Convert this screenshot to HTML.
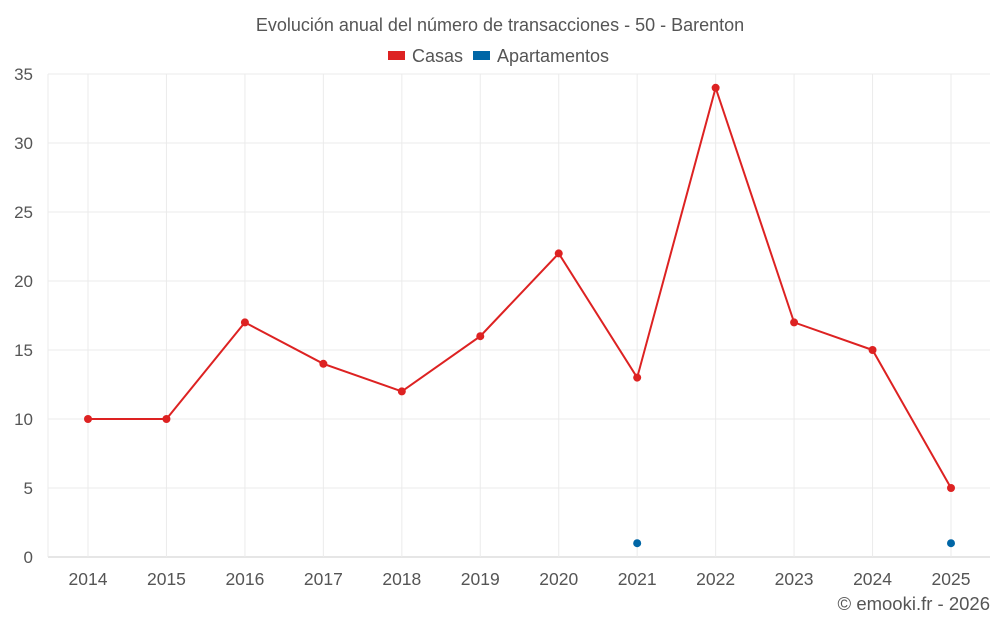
<!DOCTYPE html>
<html><head><meta charset="utf-8"><style>
body{margin:0;background:#fff;font-family:"Liberation Sans",sans-serif;}
svg text{font-family:"Liberation Sans",sans-serif;fill:#555;}
</style></head><body>
<svg id="chart" width="1000" height="625">
<text x="500" y="31" text-anchor="middle" font-size="18">Evolución anual del número de transacciones - 50 - Barenton</text>
<g>
<rect x="388" y="51" width="17" height="9" fill="#dd2222"/>
<text x="412" y="62" font-size="18">Casas</text>
<rect x="473" y="51" width="17" height="9" fill="#0066a6"/>
<text x="497" y="62" font-size="18">Apartamentos</text>
</g>
<g id="grid"></g>
<g id="axes"></g>
<g id="marks"></g>
<text x="990" y="610" text-anchor="end" font-size="18.5">© emooki.fr - 2026</text>
</svg>
<script>
const years = ["2014","2015","2016","2017","2018","2019","2020","2021","2022","2023","2024","2025"];
const casas = [10,10,17,14,12,16,22,13,34,17,15,5];
const apartamentos = [null,null,null,null,null,null,null,1,null,null,null,1];
const yTicks = [0,5,10,15,20,25,30,35];
const NS="http://www.w3.org/2000/svg";
const L=48,R=990,T=74,B=557,x0=88,x1=951;
function xs(i){return x0+(x1-x0)*i/(years.length-1);}
function ys(v){return B-(B-T)*v/35;}
function mk(tag,attrs,parent){const e=document.createElementNS(NS,tag);for(const k in attrs)e.setAttribute(k,attrs[k]);document.getElementById(parent).appendChild(e);return e;}
yTicks.forEach(v=>{
 const g=mk('line',{x1:L,x2:R,y1:ys(v),y2:ys(v),stroke:v===0?'#ccc':'#ebebeb','stroke-width':1},'grid');
 
 
 const t=mk('text',{x:33,y:ys(v)+6,'text-anchor':'end','font-size':17},'axes');
 t.textContent=v;
 
 
});
const lft=mk('line',{x1:L,x2:L,y1:T,y2:B,stroke:'#ebebeb'},'grid');


years.forEach((y,i)=>{
 const g=mk('line',{x1:xs(i),x2:xs(i),y1:T,y2:B,stroke:'#ebebeb'},'grid');
 
 
 const t=mk('text',{x:xs(i),y:585,'text-anchor':'middle','font-size':17.5},'axes');
 t.textContent=y;
 
 
});
const pts=casas.map((v,i)=>xs(i)+','+ys(v)).join(' ');
const pl=mk('polyline',{points:pts,fill:'none',stroke:'#dd2222','stroke-width':2},'marks');


casas.forEach((v,i)=>{
 const c=mk('circle',{cx:xs(i),cy:ys(v),r:4,fill:'#dd2222'},'marks');
 
 
});
apartamentos.forEach((v,i)=>{
 if(v===null)return;
 const c=mk('circle',{cx:xs(i),cy:ys(v),r:4,fill:'#0066a6'},'marks');
 
 
});
</script>
</body></html>
